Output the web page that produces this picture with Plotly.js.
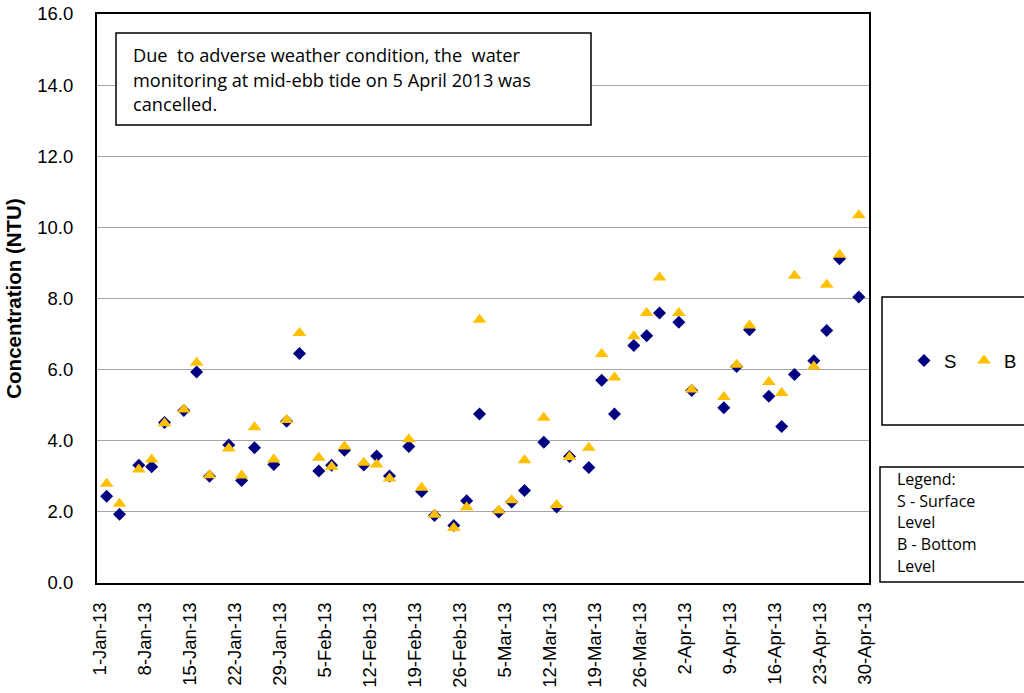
<!DOCTYPE html>
<html>
<head>
<meta charset="utf-8">
<script src="https://cdn.plot.ly/plotly-3.0.1.min.js"></script>
<style>html,body{margin:0;padding:0;background:#fff;}#chart{width:1024px;height:693px;}</style>
</head>
<body>
<div id="chart"></div>
<script>
// Sampling dates
const dates = [
  '2013-01-02','2013-01-04','2013-01-07','2013-01-09','2013-01-11','2013-01-14','2013-01-16','2013-01-18','2013-01-21','2013-01-23','2013-01-25','2013-01-28','2013-01-30',
  '2013-02-01','2013-02-04','2013-02-06','2013-02-08','2013-02-11','2013-02-13','2013-02-15','2013-02-18','2013-02-20','2013-02-22','2013-02-25','2013-02-27',
  '2013-03-01','2013-03-04','2013-03-06','2013-03-08','2013-03-11','2013-03-13','2013-03-15','2013-03-18','2013-03-20','2013-03-22','2013-03-25','2013-03-27','2013-03-29',
  '2013-04-01','2013-04-03','2013-04-08','2013-04-10','2013-04-12','2013-04-15','2013-04-17','2013-04-19','2013-04-22','2013-04-24','2013-04-26','2013-04-29'
];
// S - Surface level (NTU)
const surface = [
  2.44,1.93,3.31,3.27,4.51,4.85,5.93,3.00,3.88,2.88,3.80,3.33,4.55,
  6.45,3.15,3.31,3.73,3.32,3.57,3.01,3.84,2.57,1.90,1.62,2.31,
  4.75,2.00,2.28,2.60,3.96,2.14,3.56,3.25,5.70,4.75,6.68,6.95,7.59,
  7.33,5.41,4.93,6.09,7.12,5.25,4.40,5.86,6.25,7.10,9.12,8.04
];
// B - Bottom level (NTU)
const bottom = [
  2.79,2.23,3.19,3.47,4.49,4.88,6.19,3.03,3.78,3.02,4.38,3.47,4.58,
  7.03,3.52,3.27,3.84,3.38,3.33,2.94,4.04,2.68,1.92,1.55,2.13,
  7.40,2.04,2.33,3.45,4.65,2.19,3.54,3.80,6.44,5.78,6.94,7.59,8.59,
  7.59,5.44,5.23,6.14,7.24,5.65,5.34,8.64,6.09,8.39,9.23,10.34
];
const seriesNames = ['S', 'B'];
const yTitle = 'Concentration (NTU)';
const noteLines = [
  'Due  to adverse weather condition, the  water',
  'monitoring at mid-ebb tide on 5 April 2013 was',
  'cancelled.'
];
const legendNoteLines = ['Legend:', 'S - Surface', 'Level', 'B - Bottom', 'Level'];

// pixel helpers (plot area: x 97..869, y 14..583)
const L = 97, R = 869, T = 14, B = 583;
const px = v => (v - L) / (R - L);
const py = v => (B - v) / (B - T);

const traces = [
  {x: dates, y: surface, name: seriesNames[0], type: 'scatter', mode: 'markers',
   marker: {symbol: 'diamond', size: 10, color: '#000080'}},
  {x: dates, y: bottom, name: seriesNames[1], type: 'scatter', mode: 'markers',
   marker: {symbol: 'triangle-up', size: 12, color: '#FFC000'}}
];

const tickFont = {family: 'Arial, "Liberation Sans", sans-serif', size: 18.5, color: '#000'};
const noteFont = {family: '"Open Sans", sans-serif', size: 18.2, color: '#000'};

const annotations = [];
const noteY = [55, 80, 104];
noteLines.forEach((t, i) => annotations.push({
  xref: 'paper', yref: 'paper', x: px(131), y: py(noteY[i]), xanchor: 'left', yanchor: 'middle',
  text: t, showarrow: false, font: noteFont, align: 'left'
}));
const legY = [479, 501, 522, 544, 566];
legendNoteLines.forEach((t, i) => annotations.push({
  xref: 'paper', yref: 'paper', x: px(895), y: py(legY[i]), xanchor: 'left', yanchor: 'middle',
  text: t, showarrow: false, font: {family: '"Open Sans", sans-serif', size: 16, color: '#000'}, align: 'left'
}));

const shapes = [
  {type: 'rect', xref: 'paper', yref: 'paper', x0: px(116), x1: px(591), y0: py(125), y1: py(33),
   line: {color: '#000', width: 1.5}, fillcolor: '#fff', layer: 'above'},
  {type: 'rect', xref: 'paper', yref: 'paper', x0: px(882), x1: px(1040), y0: py(425), y1: py(297),
   line: {color: '#000', width: 1.5}, fillcolor: 'rgba(0,0,0,0)', layer: 'above'},
  {type: 'rect', xref: 'paper', yref: 'paper', x0: px(880), x1: px(1040), y0: py(582), y1: py(467),
   line: {color: '#000', width: 1.5}, fillcolor: 'rgba(0,0,0,0)', layer: 'above'}
];

const layout = {
  width: 1024, height: 693,
  margin: {l: L, r: 1024 - R, t: T, b: 693 - B, autoexpand: false},
  paper_bgcolor: '#fff', plot_bgcolor: '#fff',
  showlegend: true,
  legend: {orientation: 'h', x: px(904), y: py(361), xanchor: 'left', yanchor: 'middle',
           font: tickFont, bgcolor: 'rgba(0,0,0,0)', entrywidth: 15, entrywidthmode: 'pixels',
           itemclick: false},
  xaxis: {
    type: 'date',
    range: ['2012-12-31 12:00', '2013-04-30 14:00'],
    tickmode: 'linear', tick0: '2013-01-01', dtick: 7 * 86400000,
    tickformat: '%-d-%b-%y', tickangle: -90,
    tickfont: tickFont, showgrid: false, zeroline: false,
    showline: true, linecolor: '#000', linewidth: 2, mirror: true,
    ticks: '', ticklabelstandoff: 10
  },
  yaxis: {
    range: [0, 16], dtick: 2, tick0: 0, tickformat: '.1f',
    tickfont: tickFont, showgrid: true, gridcolor: '#a6a6a6', gridwidth: 1,
    zeroline: false, showline: true, linecolor: '#000', linewidth: 2, mirror: true,
    ticks: '', ticklabelstandoff: 18,
    title: {text: yTitle, font: {family: 'Arial, "Liberation Sans", sans-serif', size: 20.5, color: '#000', weight: 'bold'}, standoff: 10}
  },
  annotations: annotations,
  shapes: shapes
};

Plotly.newPlot('chart', traces, layout, {displayModeBar: false, staticPlot: true});
</script>
</body>
</html>
